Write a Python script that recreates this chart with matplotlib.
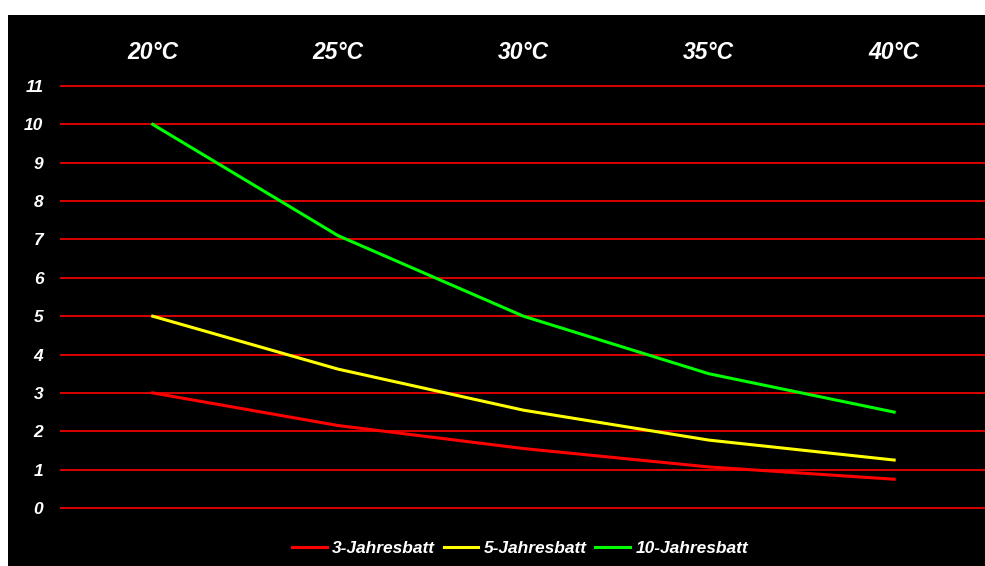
import matplotlib.pyplot as plt
from matplotlib.patches import Rectangle
import numpy as np

# Daten
temps = ['20°C', '25°C', '30°C', '35°C', '40°C']
batt_3 = [3.0, 2.15, 1.55, 1.07, 0.75]
batt_5 = [5.0, 3.62, 2.55, 1.77, 1.25]
batt_10 = [10.0, 7.1, 5.0, 3.5, 2.5]
y_ticks = list(range(0, 12))

plt.rcParams['font.family'] = ['Liberation Sans', 'DejaVu Sans']

W, H = 985, 566
fig = plt.figure(figsize=(W / 100, H / 100), dpi=100)
fig.patch.set_facecolor('white')
# schwarzer Hintergrund (weißer Rand oben und links)
fig.patches.append(Rectangle((8 / W, 0), 1 - 8 / W, 1 - 15 / H, transform=fig.transFigure,
                             facecolor='black', edgecolor='none', zorder=-10))

# 0..11 -> Pixel 508..86, etwas Rand damit die äußeren Gitterlinien nicht abgeschnitten werden
unit = (508 - 86) / 11
ext = 0.1
ax = fig.add_axes([60 / W, 1 - (508 + ext * unit) / H, 1 - 60 / W, (508 - 86 + 2 * ext * unit) / H])
ax.set_zorder(1)
ax.patch.set_alpha(0)

x = np.arange(len(temps))
ax.plot(x, batt_3, color='#ff0000', lw=2.2, label='3-Jahresbatt')
ax.plot(x, batt_5, color='#ffff00', lw=2.2, label='5-Jahresbatt')
ax.plot(x, batt_10, color='#00ff00', lw=2.2, label='10-Jahresbatt')

ax.set_xlim(-0.5, 4.49)
ax.set_ylim(-ext, 11 + ext)
ax.set_yticks(y_ticks)
ax.grid(axis='y', color='#ff0000', lw=1.2)
ax.set_axisbelow(True)
for s in ax.spines.values():
    s.set_visible(False)

ax.set_xticks(x)
ax.set_xticklabels(temps)
ax.xaxis.tick_top()
ax.tick_params(axis='x', length=0, pad=13.3, labelsize=16.5, labelcolor='white')
ax.tick_params(axis='y', length=0, pad=12, labelsize=12.5, labelcolor='white')
for lbl in ax.get_xticklabels() + ax.get_yticklabels():
    lbl.set_fontstyle('italic')
    lbl.set_fontweight('bold')

leg = fig.legend(loc='center', bbox_to_anchor=(520 / W, 1 - 548 / H), ncol=3, frameon=False,
                 handlelength=2.0, handletextpad=0.3, columnspacing=0.5,
                 prop={'size': 12.5, 'style': 'italic', 'weight': 'bold'})
for t in leg.get_texts():
    t.set_color('white')

plt.savefig('out.png', dpi=100, facecolor=fig.get_facecolor())
